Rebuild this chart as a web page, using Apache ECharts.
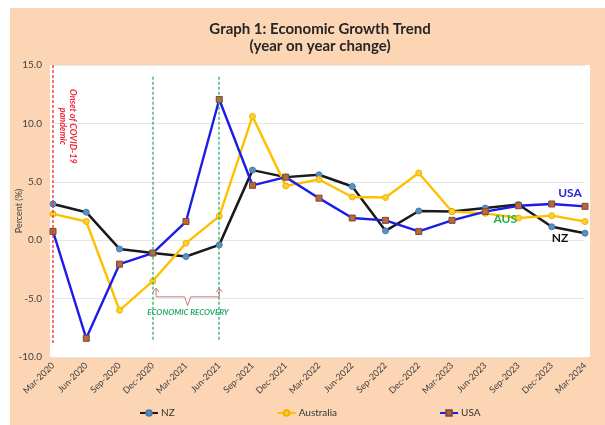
<!DOCTYPE html>
<html>
<head>
<meta charset="utf-8">
<script src="https://cdn.jsdelivr.net/npm/echarts@6/dist/echarts.min.js"></script>
<style>
html,body{margin:0;padding:0;background:#fff;}
#c{width:605px;height:425px;}
</style>
</head>
<body>
<div id="c"></div>
<script>
const categories = ['Mar-2020','Jun-2020','Sep-2020','Dec-2020','Mar-2021','Jun-2021','Sep-2021','Dec-2021','Mar-2022','Jun-2022','Sep-2022','Dec-2022','Mar-2023','Jun-2023','Sep-2023','Dec-2023','Mar-2024'];
const nzValues  = [3.1, 2.4, -0.75, -1.1, -1.4, -0.4, 6.0, 5.4, 5.6, 4.6, 0.8, 2.5, 2.45, 2.75, 3.05, 1.15, 0.6];
const ausValues = [2.25, 1.6, -6.0, -3.5, -0.25, 2.05, 10.6, 4.65, 5.2, 3.7, 3.65, 5.75, 2.45, 2.3, 1.9, 2.1, 1.6];
const usaValues = [0.75, -8.4, -2.05, -1.1, 1.6, 12.05, 4.7, 5.4, 3.6, 1.9, 1.7, 0.75, 1.7, 2.45, 2.95, 3.1, 2.9];
const yTicks = [-10, -5, 0, 5, 10, 15];
// annotation guide lines: [category, top value, bottom value]
const covidLine = ['Mar-2020', 15, -8.9];
const recoveryLines = [['Dec-2020', 14.0, -8.6], ['Jun-2021', 14.0, -8.6]];

const FONT = 'Lato, "Open Sans", sans-serif';
const chart = echarts.init(document.getElementById('c'), null, {renderer:'canvas'});

const option = {
  animation: false,
  backgroundColor: 'transparent',
  title: {
    text: 'Graph 1: Economic Growth Trend\n(year on year change)',
    left: 315, textAlign: 'center', top: 16,
    textStyle: {fontFamily: FONT, fontSize: 15, fontWeight: 'bold', color: '#262626', lineHeight: 17}
  },
  legend: {
    data: ['NZ','Australia','USA'],
    left: 134, top: 403, itemGap: 102, itemWidth: 18, itemHeight: 7,
    textStyle: {fontFamily: FONT, fontSize: 10, color: '#333', padding: [0,0,0,-2]}
  },
  grid: [
    {left: 50, right: 15, top: 65, bottom: 68, show: true, backgroundColor: '#ffffff', borderWidth: 0, z: -1, outerBoundsMode: 'none', containLabel: false},
    {left: 53, right: 20, top: 65, bottom: 68, outerBoundsMode: 'none', containLabel: false}
  ],
  xAxis: [
    {gridIndex: 0, type: 'value', show: false, min: 0, max: 1},
    {gridIndex: 1, type: 'category', data: categories, boundaryGap: false,
     axisLine: {show: false}, axisTick: {show: false},
     axisLabel: {interval: 0, rotate: 45, margin: 7, fontFamily: FONT, fontSize: 9, color: '#404040'},
     splitLine: {show: false}}
  ],
  yAxis: [
    {gridIndex: 0, type: 'value', show: false, min: 0, max: 1},
    {gridIndex: 1, type: 'value', min: yTicks[0], max: yTicks[yTicks.length-1], interval: 5,
     name: 'Percent (%)', nameLocation: 'middle', nameGap: 29, nameMoveOverlap: false,
     nameTextStyle: {fontFamily: FONT, fontSize: 9, color: '#404040'},
     axisLine: {show: false}, axisTick: {show: false},
     axisLabel: {margin: 11, fontFamily: FONT, fontSize: 10, color: '#404040', formatter: v => v.toFixed(1)},
     splitLine: {lineStyle: {color: '#e6e6e6', width: 1}}}
  ],
  series: [
    {name: 'NZ', type: 'line', xAxisIndex: 1, yAxisIndex: 1, data: nzValues,
     symbol: 'circle', symbolSize: 6,
     lineStyle: {color: '#1a1a1a', width: 2.5},
     itemStyle: {color: '#5b8fc4', borderColor: '#4a7aa8', borderWidth: 1}},
    {name: 'Australia', type: 'line', xAxisIndex: 1, yAxisIndex: 1, data: ausValues,
     symbol: 'circle', symbolSize: 6,
     lineStyle: {color: '#ffc000', width: 2.4},
     itemStyle: {color: '#ffcf30', borderColor: '#f0b400', borderWidth: 1}},
    {name: 'USA', type: 'line', xAxisIndex: 1, yAxisIndex: 1, data: usaValues,
     symbol: 'rect', symbolSize: 6,
     lineStyle: {color: '#1c1ce8', width: 2.4},
     itemStyle: {color: '#b8683a', borderColor: '#7a4a3a', borderWidth: 1}}
  ]
};
chart.setOption(option);

// annotations placed in data coordinates (fractional category positions interpolated)
function px(i, v){
  if (typeof i === 'string') i = categories.indexOf(i);
  const i0 = Math.floor(i), i1 = Math.min(i0 + 1, categories.length - 1);
  const p0 = chart.convertToPixel({gridIndex: 1}, [i0, v]);
  const p1 = chart.convertToPixel({gridIndex: 1}, [i1, v]);
  const f = i - i0;
  return [p0[0] + (p1[0] - p0[0]) * f, p0[1]];
}
function vline(def, color){
  const a = px(def[0], def[1]), b = px(def[0], def[2]);
  const x = Math.round(a[0]);
  return {type: 'line', z: 40, silent: true,
    shape: {x1: x, y1: a[1], x2: x, y2: b[1]},
    style: {stroke: color, lineWidth: 1.3, lineDash: [3, 2]}};
}
const covid = px(0.45, 9.75);
const usaL = px(15.55, 4.0), ausL = px(13.6, 1.77), nzL = px(15.25, 0.14);
const recL = px(4.06, -6.2);
const aL = px(3.1, -4.1), aR = px(5.0, -4.1);
const lineY = px(0, -4.85)[1], tipY = aL[1], botY = px(0, -5.6)[1];
const xc = (aL[0] + aR[0]) / 2;
const braceColor = '#c87a7a';

chart.setOption({
  graphic: [
    {type: 'rect', z: -100, shape: {x: 10, y: 8, width: 595, height: 417}, style: {fill: '#fcd5b5'}, silent: true},
    vline(covidLine, '#ee2a3a'),
    vline(recoveryLines[0], '#2fae6c'),
    vline(recoveryLines[1], '#2fae6c'),
    {type: 'text', x: covid[0], y: covid[1], rotation: -Math.PI/2, z: 50,
     style: {text: 'Onset of COVID-19\npandemic', fill: '#f0283a', font: 'italic bold 9px ' + FONT, align: 'center', verticalAlign: 'middle', lineHeight: 10}},
    {type: 'text', x: usaL[0], y: usaL[1], z: 50, style: {text: 'USA', fill: '#2424d8', font: 'bold 12px ' + FONT, align: 'center', verticalAlign: 'middle'}},
    {type: 'text', x: ausL[0], y: ausL[1], z: 50, style: {text: 'AUS', fill: '#22b04a', font: 'bold 12px ' + FONT, align: 'center', verticalAlign: 'middle'}},
    {type: 'text', x: nzL[0], y: nzL[1], z: 50, style: {text: 'NZ', fill: '#111', font: 'bold 12px ' + FONT, align: 'center', verticalAlign: 'middle'}},
    {type: 'text', x: recL[0], y: recL[1], z: 50, style: {text: 'ECONOMIC RECOVERY', fill: '#2aa86a', font: 'italic bold 8px ' + FONT, align: 'center', verticalAlign: 'middle'}},
    {type: 'polyline', z: 50, silent: true,
     shape: {points: [[aL[0], tipY], [aL[0], lineY], [xc - 3, lineY], [xc, botY], [xc + 3, lineY], [aR[0], lineY], [aR[0], tipY]]},
     style: {stroke: braceColor, lineWidth: 1, fill: null}},
    {type: 'polyline', z: 50, silent: true,
     shape: {points: [[aL[0] - 3, tipY + 4], [aL[0], tipY], [aL[0] + 3, tipY + 4]]},
     style: {stroke: braceColor, lineWidth: 1, fill: null}},
    {type: 'polyline', z: 50, silent: true,
     shape: {points: [[aR[0] - 3, tipY + 4], [aR[0], tipY], [aR[0] + 3, tipY + 4]]},
     style: {stroke: braceColor, lineWidth: 1, fill: null}}
  ]
});
</script>
</body>
</html>
